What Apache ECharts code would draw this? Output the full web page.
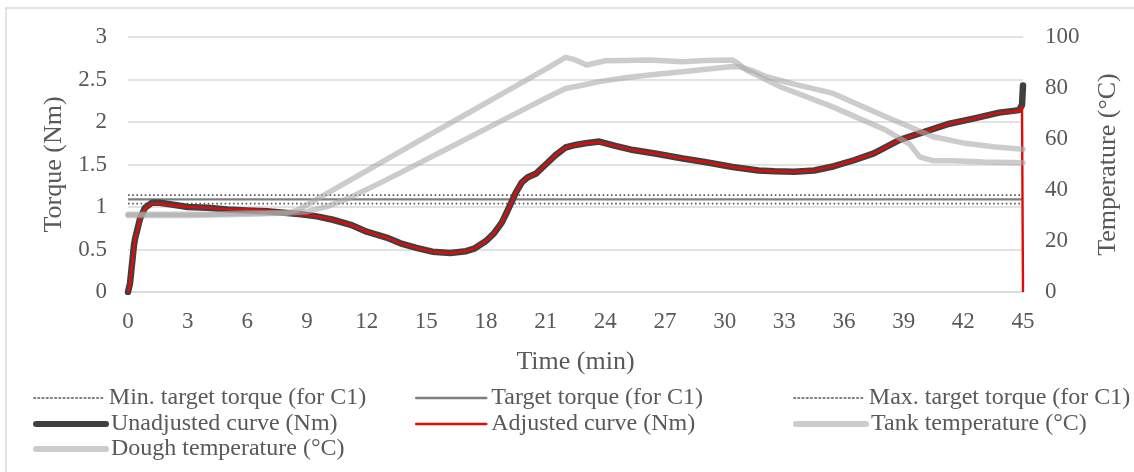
<!DOCTYPE html>
<html>
<head>
<meta charset="utf-8">
<script src="https://cdn.jsdelivr.net/npm/echarts@6/dist/echarts.min.js"></script>
<style>
    html, body { margin: 0; padding: 0; background: #fff; }
    #myChart { width: 1134px; height: 472px; }
</style>
</head>
<body>
<div id="myChart"></div>
<script>
//时间 (min) - 扭矩曲线
var torqueTime = [0, 0.1, 0.3, 0.35, 0.6, 0.85, 1.2, 1.6, 2.2, 3, 4, 5, 6, 7, 8, 8.7, 9.5, 10.3, 11.2, 12, 13, 13.7, 14.5, 15.3, 16.2, 17, 17.4, 18, 18.4, 18.8, 19.1, 19.5, 19.8, 20.1, 20.5, 21, 21.5, 22, 22.5, 23, 23.7, 24.5, 25.4, 26.5, 27.9, 29, 30.4, 31.7, 32.5, 33.5, 34.5, 35.5, 36.5, 37.5, 38.8, 40, 41.3, 42.5, 43.8, 44.8, 44.95];
var adjustedTorque = [0, 0.1, 0.5, 0.6, 0.85, 0.98, 1.04, 1.04, 1.02, 1.0, 0.99, 0.975, 0.97, 0.96, 0.94, 0.915, 0.89, 0.85, 0.79, 0.71, 0.64, 0.573, 0.52, 0.474, 0.458, 0.48, 0.51, 0.6, 0.69, 0.82, 0.965, 1.17, 1.29, 1.35, 1.39, 1.5, 1.61, 1.7, 1.73, 1.75, 1.76, 1.72, 1.67, 1.63, 1.57, 1.53, 1.47, 1.43, 1.42, 1.415, 1.43, 1.48, 1.55, 1.63, 1.79, 1.88, 1.98, 2.04, 2.11, 2.13, 2.18];
var unadjustedTorque = [0, 0.1, 0.55, 0.62, 0.86, 0.99, 1.05, 1.05, 1.03, 1.0, 0.99, 0.97, 0.96, 0.95, 0.93, 0.915, 0.89, 0.85, 0.79, 0.71, 0.64, 0.573, 0.52, 0.474, 0.458, 0.48, 0.51, 0.6, 0.69, 0.82, 0.965, 1.17, 1.29, 1.35, 1.39, 1.5, 1.61, 1.7, 1.73, 1.75, 1.77, 1.72, 1.67, 1.63, 1.57, 1.53, 1.47, 1.43, 1.42, 1.415, 1.43, 1.48, 1.55, 1.63, 1.79, 1.88, 1.98, 2.04, 2.11, 2.14, 2.2];
var unadjustedEnd = [[45, 2.43]];
var adjustedEnd = [[45, 2.2], [45, 0]];

//目标扭矩 (Nm)
var minTarget = 1.04;
var target = 1.09;
var maxTarget = 1.14;

//温度曲线 (°C)
var tankTime = [0, 2, 4, 6, 8, 8.5, 9.5, 11, 13, 15, 17, 19, 21, 22, 22.5, 23.05, 24, 25, 26.2, 27.9, 29, 30.4, 30.6, 31.1, 32.8, 35.4, 38.1, 39.3, 39.8, 40.45, 41.5, 43, 45];
var tankTemp = [30.5, 30.5, 30.5, 31, 31, 32, 36.4, 43.1, 52, 60.9, 69.7, 78.6, 87.4, 92, 91, 89, 90.7, 90.8, 91, 90.3, 90.8, 91, 90, 87, 80.5, 72.7, 63.5, 58, 53, 51.5, 51.5, 51, 50.7];
var doughTime = [0, 3, 6, 8, 9, 10, 11, 12.66, 14, 16, 18.7, 20, 21, 22, 22.9, 23.7, 25, 26.2, 28, 30.4, 30.8, 31.5, 32.1, 33.5, 35.4, 38.1, 40.45, 42.1, 43.5, 45];
var doughTemp = [30, 30, 30.5, 31, 31.5, 33.5, 36.5, 42.7, 48, 56, 66.8, 72, 76, 79.8, 81.2, 82.5, 84, 85.1, 86.5, 88.4, 88.2, 86.5, 84.4, 81.5, 78, 68.7, 61, 58.3, 57, 56];

var fontFamily = "'Liberation Serif', 'Times New Roman', serif";
var textColor = '#595959';
var tempColor = 'rgba(170,170,170,0.6)';

//组合 [x, y]
function pairs(xs, ys) {
    var out = [];
    for (var i = 0; i < xs.length; i++) {
        out.push([xs[i], ys[i]]);
    }
    return out;
}

function flatLine(v) {
    return [[0, v], [45, v]];
}

//图例 (每项一个, 便于对齐三列)
function legendAt(name, left, top, lineWidth) {
    return {
        data: [name],
        left: left,
        top: top,
        itemWidth: 70,
        itemHeight: 14,
        selectedMode: false,
        itemStyle: {opacity: 0},
        lineStyle: {width: lineWidth, cap: 'round'},
        textStyle: {
            fontFamily: fontFamily,
            fontSize: 24,
            color: textColor
        }
    };
}

var option = {
    animation: false,
    backgroundColor: '#fff',
    graphic: [{
        type: 'rect',
        shape: {x: 6, y: 8, width: 1140, height: 480},
        style: {fill: 'none', stroke: '#d9d9d9', lineWidth: 1.5},
        silent: true
    }],
    grid: {
        left: 128,
        right: 111,
        top: 37,
        bottom: 180
    },
    legend: [
        legendAt('Min. target torque (for C1)', 28, 381, 1.6),
        legendAt('Target torque (for C1)', 410, 381, 2.5),
        legendAt('Max. target torque (for C1)', 788, 381, 1.6),
        legendAt('Unadjusted curve (Nm)', 28, 407, 6),
        legendAt('Adjusted curve (Nm)', 410, 407, 2.5),
        legendAt('Tank temperature (°C)', 788, 407, 6),
        legendAt('Dough temperature (°C)', 28, 432, 6)
    ],
    xAxis: {
        type: 'value',
        min: 0,
        max: 45,
        interval: 3,
        name: 'Time (min)',
        nameLocation: 'middle',
        nameGap: 57,
        nameTextStyle: {
            fontFamily: fontFamily,
            fontSize: 26,
            color: textColor
        },
        axisLine: {
            show: true,
            lineStyle: {color: '#d9d9d9', width: 1.5}
        },
        axisTick: {show: false},
        axisLabel: {
            margin: 18,
            fontFamily: fontFamily,
            fontSize: 23,
            color: textColor
        },
        splitLine: {show: false}
    },
    yAxis: [{
        type: 'value',
        min: 0,
        max: 3,
        interval: 0.5,
        name: 'Torque (Nm)',
        nameLocation: 'middle',
        nameGap: 52,
        nameRotate: 90,
        nameTextStyle: {
            fontFamily: fontFamily,
            fontSize: 26,
            color: textColor
        },
        axisLine: {show: false},
        axisTick: {show: false},
        axisLabel: {
            margin: 21,
            fontFamily: fontFamily,
            fontSize: 23,
            color: textColor
        },
        splitLine: {//网格线
            show: true,
            lineStyle: {color: '#d9d9d9', width: 1.5}
        }
    }, {
        type: 'value',
        position: 'right',
        min: 0,
        max: 100,
        interval: 20,
        name: 'Temperature (°C)',
        nameLocation: 'middle',
        nameGap: 72,
        nameRotate: 90,
        nameTextStyle: {
            fontFamily: fontFamily,
            fontSize: 26,
            color: textColor
        },
        axisLine: {show: false},
        axisTick: {show: false},
        axisLabel: {
            margin: 22,
            fontFamily: fontFamily,
            fontSize: 23,
            color: textColor
        },
        splitLine: {show: false}
    }],
    series: [{
        name: 'Min. target torque (for C1)',
        type: 'line',
        symbol: 'none',
        data: flatLine(minTarget),
        lineStyle: {color: '#595959', width: 1.6, type: [1.6, 2.6]}
    }, {
        name: 'Target torque (for C1)',
        type: 'line',
        symbol: 'none',
        data: flatLine(target),
        lineStyle: {color: '#7f7f7f', width: 2.2}
    }, {
        name: 'Max. target torque (for C1)',
        type: 'line',
        symbol: 'none',
        data: flatLine(maxTarget),
        lineStyle: {color: '#595959', width: 1.6, type: [1.6, 2.6]}
    }, {
        name: 'Unadjusted curve (Nm)',
        type: 'line',
        symbol: 'none',
        data: pairs(torqueTime, unadjustedTorque).concat(unadjustedEnd),
        lineStyle: {color: '#404040', width: 6.5, cap: 'round', join: 'round'}
    }, {
        name: 'Adjusted curve (Nm)',
        type: 'line',
        symbol: 'none',
        data: pairs(torqueTime, adjustedTorque).concat(adjustedEnd),
        lineStyle: {color: '#e00b0b', width: 2.4}
    }, {
        name: 'Tank temperature (°C)',
        type: 'line',
        yAxisIndex: 1,
        symbol: 'none',
        data: pairs(tankTime, tankTemp),
        lineStyle: {color: tempColor, width: 5.5, cap: 'round', join: 'round'}
    }, {
        name: 'Dough temperature (°C)',
        type: 'line',
        yAxisIndex: 1,
        symbol: 'none',
        data: pairs(doughTime, doughTemp),
        lineStyle: {color: tempColor, width: 5.5, cap: 'round', join: 'round'}
    }]
};

var myChart = echarts.init(document.getElementById('myChart'));
myChart.setOption(option);
</script>
</body>
</html>
